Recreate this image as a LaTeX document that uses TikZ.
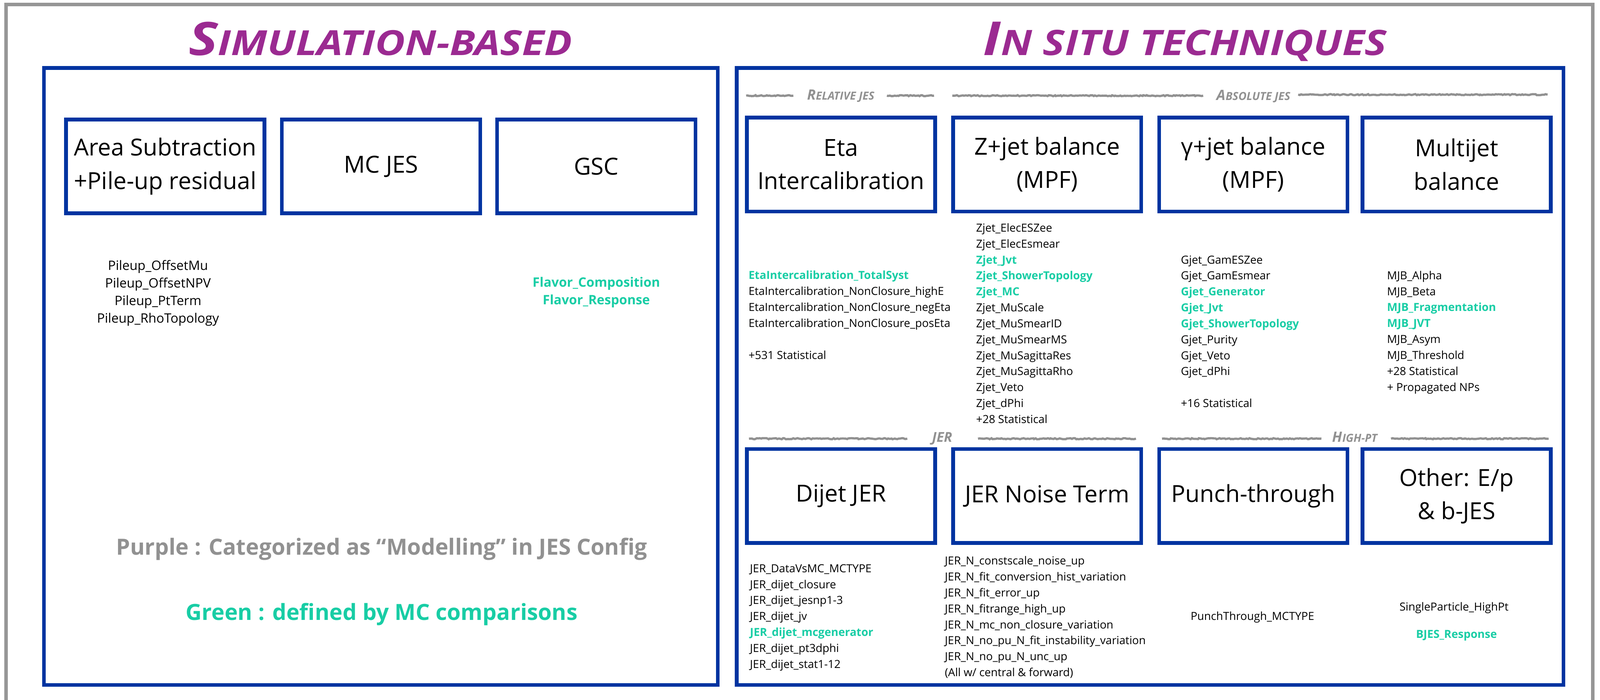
\documentclass[tikz,border=0pt]{standalone}
\usepackage{fontspec}
\setmainfont{Open Sans}
\usepackage{xcolor}
\usepackage{graphicx}
\usetikzlibrary{positioning,decorations.pathmorphing}

\definecolor{jesblue}{RGB}{0,51,160}
\definecolor{titlepurple}{RGB}{155,42,145}
\definecolor{mcgreen}{RGB}{24,205,165}
\definecolor{notegray}{RGB}{145,145,145}
\definecolor{framegray}{RGB}{150,150,150}

% green = defined by MC comparisons
\newcommand{\mcsys}[1]{{\bfseries\color{mcgreen}#1}}

\tikzset{
  bigbox/.style={draw=jesblue, line width=3pt},
  catbox/.style={draw=jesblue, line width=3pt, minimum width=5.35cm, minimum height=2.67cm,
    align=center, inner sep=2pt, font=\fontsize{19}{27}\selectfont},
  % lists are placed at the baseline of their last line
  syslist/.style={anchor=base west, align=left, inner sep=0pt, font=\fontsize{9}{12.9}\selectfont},
  sysmid/.style={anchor=base, align=center, inner sep=0pt, font=\fontsize{9}{12.9}\selectfont},
  bigtitle/.style={anchor=base, inner sep=0pt, text=titlepurple, font=\bfseries\itshape},
  sectlabel/.style={anchor=base, inner sep=0pt, text=notegray, font=\bfseries\itshape},
  roughline/.style={draw=notegray, line width=1.8pt, decorate,
    decoration={random steps, segment length=1.2pt, amplitude=0.45pt}},
  note/.style={anchor=base, inner sep=0pt, font=\bfseries\fontsize{18}{21}\selectfont}
}

\begin{document}
\begin{tikzpicture}[x=1cm, y=-1cm]
    \useasboundingbox (0,0) rectangle (45.48,19.89);

    % Outer frame (open at the bottom)
    \draw[framegray, line width=0.1cm] (0.17,20.5) -- (0.17,0.13) -- (45.27,0.13) -- (45.27,20.5);

    % Titles
    \node[bigtitle] (simtitle) at (10.815,1.57)
      {\resizebox{10.9cm}{0.95cm}{{\fontsize{40}{40}\selectfont S}\fontsize{30}{30}\selectfont IMULATION-BASED}};
    \node[bigtitle] (insitutitle) at (33.68,1.57)
      {\resizebox{11.47cm}{0.95cm}{{\fontsize{40}{40}\selectfont I}\fontsize{30}{30}\selectfont N SITU TECHNIQUES}};

    % Frames
    \draw[bigbox] (1.25,1.93) rectangle (20.40,19.47);
    \draw[bigbox] (20.94,1.93) rectangle (44.44,19.47);

    % Simulation-based steps
    \node[catbox, minimum width=5.64cm] (areasub) at (4.695,4.73) {Area Subtraction\\+Pile-up residual};
    \node[catbox, minimum width=5.64cm] (mcjes) at (10.83,4.73) {MC JES};
    \node[catbox, minimum width=5.64cm] (gsc) at (16.95,4.73) {GSC};

    \node[sysmid, font=\fontsize{10.5}{14.2}\selectfont] (pileuplist) at (4.49,9.18)
      {Pileup\_OffsetMu\\Pileup\_OffsetNPV\\Pileup\_PtTerm\\Pileup\_RhoTopology};
    \node[sysmid, font=\fontsize{10.5}{14.2}\selectfont] (flavorlist) at (16.95,8.66)
      {\mcsys{Flavor\_Composition}\\\mcsys{Flavor\_Response}};

    % Legend
    \node[note, text=notegray] (purplenote) at (10.85,15.77) {Purple : Categorized as “Modelling” in JES Config};
    \node[note, text=mcgreen] (greennote) at (10.85,17.63) {Green : defined by MC comparisons};

    % In situ: section headers
    \draw[roughline] (21.21,2.72) -- (22.55,2.72);
    \node[sectlabel] (reljes) at (23.90,2.84) {{\fontsize{11.5}{12}\selectfont R}\fontsize{9}{10}\selectfont ELATIVE JES};
    \draw[roughline] (25.21,2.72) -- (26.55,2.72);
    \draw[roughline] (27.07,2.72) -- (34.20,2.72);
    \node[sectlabel] (absjes) at (35.63,2.85) {{\fontsize{11.5}{12}\selectfont A}\fontsize{9}{10}\selectfont BSOLUTE JES};
    \draw[roughline] (36.90,2.69) -- (43.99,2.69);

    \draw[roughline] (21.29,12.47) -- (25.79,12.47);
    \node[sectlabel] (jerlabel) at (26.78,12.56) {\fontsize{11}{12}\selectfont JER};
    \draw[roughline] (27.80,12.47) -- (32.29,12.47);
    \draw[roughline] (33.03,12.47) -- (37.56,12.47);
    \node[sectlabel] (highpt) at (38.51,12.56) {{\fontsize{11.5}{12}\selectfont H}\fontsize{9}{10}\selectfont IGH-PT};
    \draw[roughline] (39.54,12.47) -- (44.02,12.47);

    % In situ: row 1
    \node[catbox] (etaic) at (23.905,4.675) {Eta\\Intercalibration};
    \node[catbox] (zjet) at (29.765,4.675) {Z+jet balance\\(MPF)};
    \node[catbox] (gjet) at (35.625,4.675) {γ+jet balance\\(MPF)};
    \node[catbox] (mjb) at (41.405,4.675) {Multijet\\balance};

    \node[syslist] (etalist) at (21.27,10.205)
      {\mcsys{EtaIntercalibration\_TotalSyst}\\
       EtaIntercalibration\_NonClosure\_highE\\
       EtaIntercalibration\_NonClosure\_negEta\\
       EtaIntercalibration\_NonClosure\_posEta\\[12.9pt]
       +531 Statistical};
    \node[syslist] (zjetlist) at (27.74,12.03)
      {Zjet\_ElecESZee\\Zjet\_ElecEsmear\\\mcsys{Zjet\_Jvt}\\\mcsys{Zjet\_ShowerTopology}\\
       \mcsys{Zjet\_MC}\\Zjet\_MuScale\\Zjet\_MuSmearID\\Zjet\_MuSmearMS\\Zjet\_MuSagittaRes\\
       Zjet\_MuSagittaRho\\Zjet\_Veto\\Zjet\_dPhi\\+28 Statistical};
    \node[syslist] (gjetlist) at (33.56,11.576)
      {Gjet\_GamESZee\\Gjet\_GamEsmear\\\mcsys{Gjet\_Generator}\\\mcsys{Gjet\_Jvt}\\
       \mcsys{Gjet\_ShowerTopology}\\Gjet\_Purity\\Gjet\_Veto\\Gjet\_dPhi\\[12.9pt]
       +16 Statistical};
    \node[syslist] (mjblist) at (39.42,11.116)
      {MJB\_Alpha\\MJB\_Beta\\\mcsys{MJB\_Fragmentation}\\\mcsys{MJB\_JVT}\\MJB\_Asym\\
       MJB\_Threshold\\+28 Statistical\\+ Propagated NPs};

    % In situ: row 2
    \node[catbox] (dijetjer) at (23.905,14.10) {Dijet JER};
    \node[catbox] (jernoise) at (29.765,14.10) {JER Noise Term};
    \node[catbox] (punch) at (35.625,14.10) {Punch-through};
    \node[catbox] (otherjes) at (41.405,14.10) {Other: E/p\\\& b-JES};

    \node[syslist] (dijetlist) at (21.31,18.99)
      {JER\_DataVsMC\_MCTYPE\\JER\_dijet\_closure\\JER\_dijet\_jesnp1-3\\JER\_dijet\_jv\\
       \mcsys{JER\_dijet\_mcgenerator}\\JER\_dijet\_pt3dphi\\JER\_dijet\_stat1-12};
    \node[syslist] (noiselist) at (26.85,19.226)
      {JER\_N\_constscale\_noise\_up\\JER\_N\_fit\_conversion\_hist\_variation\\JER\_N\_fit\_error\_up\\
       JER\_N\_fitrange\_high\_up\\JER\_N\_mc\_non\_closure\_variation\\
       JER\_N\_no\_pu\_N\_fit\_instability\_variation\\JER\_N\_no\_pu\_N\_unc\_up\\
       (All w/ central \& forward)};
    \node[sysmid] (punchlist) at (35.60,17.63) {PunchThrough\_MCTYPE};
    \node[sysmid] (singlepart) at (41.33,17.36) {SingleParticle\_HighPt};
    \node[sysmid] (bjes) at (41.40,18.14) {\mcsys{BJES\_Response}};
\end{tikzpicture}
\end{document}
